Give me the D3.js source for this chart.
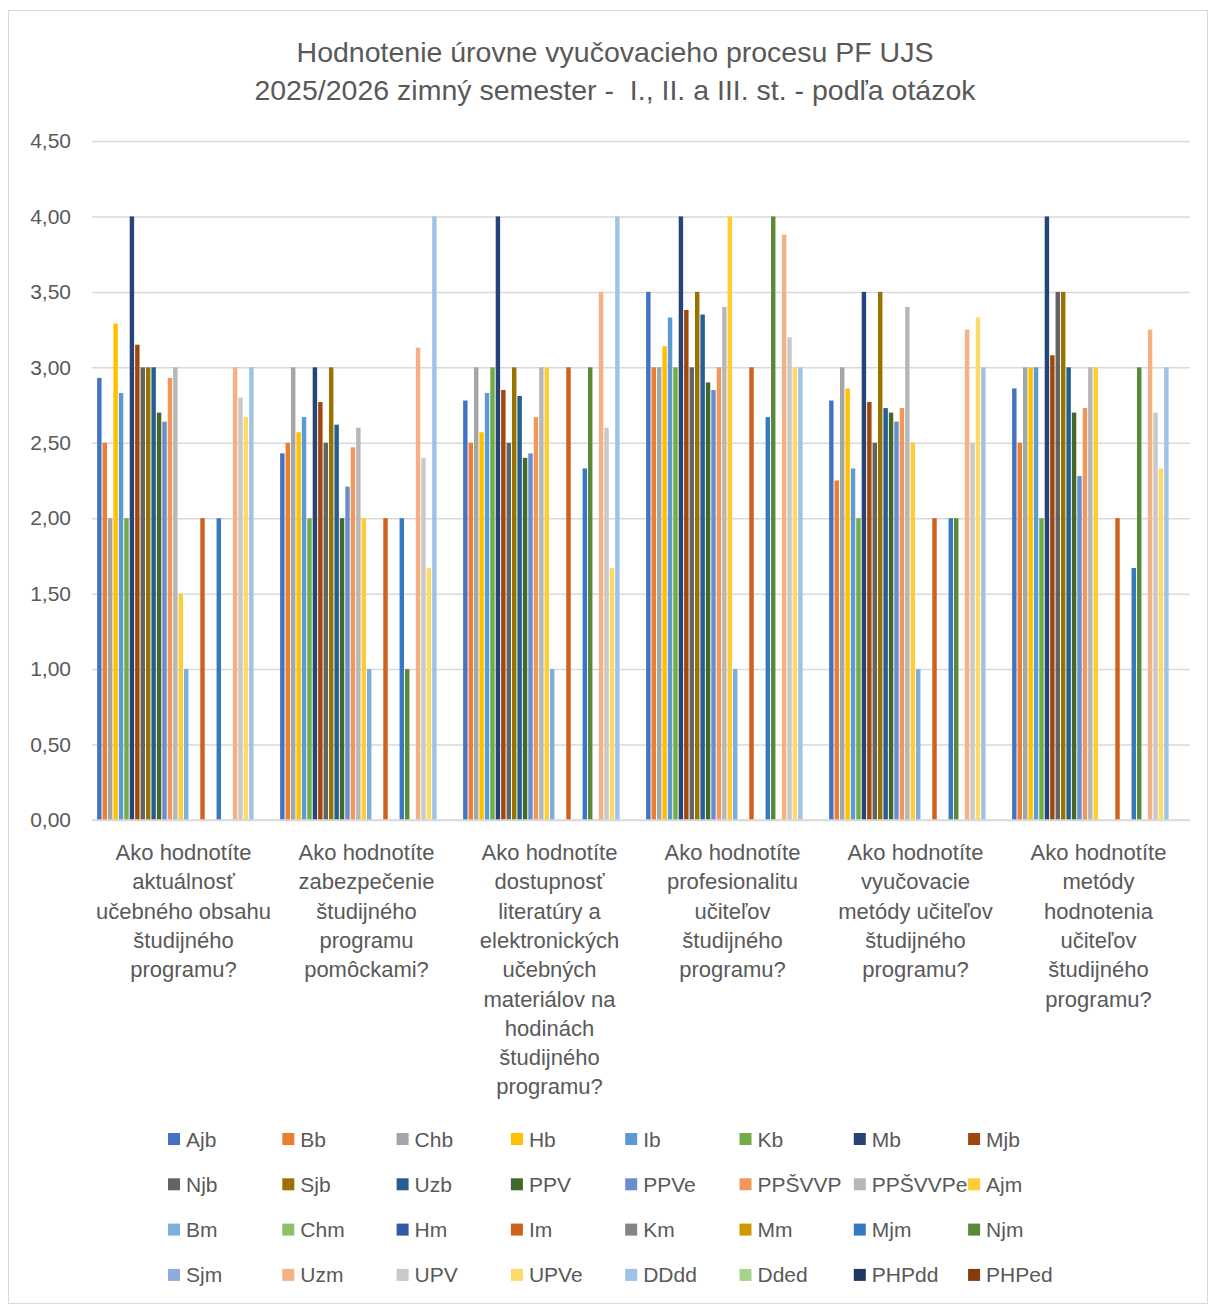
<!DOCTYPE html>
<html><head><meta charset="utf-8">
<script src="https://cdn.jsdelivr.net/npm/d3@7"></script>
<style>body{margin:0;background:#fff}svg{display:block}text{font-family:"Liberation Sans","DejaVu Sans",sans-serif;white-space:pre}</style>
</head><body><svg id="c" width="1208" height="1304"></svg>
<script>
const titleLines = ["Hodnotenie úrovne vyučovacieho procesu PF UJS", "2025/2026 zimný semester -  I., II. a III. st. - podľa otázok"];
const categories = [
  ["Ako hodnotíte","aktuálnosť","učebného obsahu","študijného","programu?"],
  ["Ako hodnotíte","zabezpečenie","študijného","programu","pomôckami?"],
  ["Ako hodnotíte","dostupnosť","literatúry a","elektronických","učebných","materiálov na","hodinách","študijného","programu?"],
  ["Ako hodnotíte","profesionalitu","učiteľov","študijného","programu?"],
  ["Ako hodnotíte","vyučovacie","metódy učiteľov","študijného","programu?"],
  ["Ako hodnotíte","metódy","hodnotenia","učiteľov","študijného","programu?"]
];
const seriesNames = ["Ajb","Bb","Chb","Hb","Ib","Kb","Mb","Mjb","Njb","Sjb","Uzb","PPV","PPVe","PPŠVVP","PPŠVVPe","Ajm","Bm","Chm","Hm","Im","Km","Mm","Mjm","Njm","Sjm","Uzm","UPV","UPVe","DDdd","Dded","PHPdd","PHPed"];
const seriesColors = ["#4472C4","#ED7D31","#A5A5A5","#FFC000","#5B9BD5","#70AD47","#264478","#9E480E","#636363","#997300","#255E91","#43682B","#698ED0","#F1975A","#B7B7B7","#FFCD33","#7CAFDD","#8CC168","#3358A4","#D0601A","#848484","#CC9A00","#3479C2","#5A8A38","#8FAADC","#F4B183","#C9C9C9","#FFD966","#9DC3E6","#A9D18E","#203864","#843C0C"];
// values per series, one per category (6 questions)
const Ajb=[2.93,2.43,2.78,3.50,2.78,2.86];
const Bb=[2.50,2.50,2.50,3.00,2.25,2.50];
const Chb=[2.00,3.00,3.00,3.00,3.00,3.00];
const Hb=[3.29,2.57,2.57,3.14,2.86,3.00];
const Ib=[2.83,2.67,2.83,3.33,2.33,3.00];
const Kb=[2.00,2.00,3.00,3.00,2.00,2.00];
const Mb=[4.00,3.00,4.00,4.00,3.50,4.00];
const Mjb=[3.15,2.77,2.85,3.38,2.77,3.08];
const Njb=[3.00,2.50,2.50,3.00,2.50,3.50];
const Sjb=[3.00,3.00,3.00,3.50,3.50,3.50];
const Uzb=[3.00,2.62,2.81,3.35,2.73,3.00];
const PPV=[2.70,2.00,2.40,2.90,2.70,2.70];
const PPVe=[2.64,2.21,2.43,2.85,2.64,2.28];
const PPSVVP=[2.93,2.47,2.67,3.00,2.73,2.73];
const PPSVVPe=[3.00,2.60,3.00,3.40,3.40,3.00];
const Ajm=[1.50,2.00,3.00,4.00,2.50,3.00];
const Bm=[1.00,1.00,1.00,1.00,1.00,0];
const Chm=[0,0,0,0,0,0];
const Hm=[0,0,0,0,0,0];
const Im=[2.00,2.00,3.00,3.00,2.00,2.00];
const Km=[0,0,0,0,0,0];
const Mm=[0,0,0,0,0,0];
const Mjm=[2.00,2.00,2.33,2.67,2.00,1.67];
const Njm=[0,1.00,3.00,4.00,2.00,3.00];
const Sjm=[0,0,0,0,0,0];
const Uzm=[3.00,3.13,3.50,3.88,3.25,3.25];
const UPV=[2.80,2.40,2.60,3.20,2.50,2.70];
const UPVe=[2.67,1.67,1.67,3.00,3.33,2.33];
const DDdd=[3.00,4.00,4.00,3.00,3.00,3.00];
const Dded=[0,0,0,0,0,0];
const PHPdd=[0,0,0,0,0,0];
const PHPed=[0,0,0,0,0,0];
const seriesValues=[Ajb,Bb,Chb,Hb,Ib,Kb,Mb,Mjb,Njb,Sjb,Uzb,PPV,PPVe,PPSVVP,PPSVVPe,Ajm,Bm,Chm,Hm,Im,Km,Mm,Mjm,Njm,Sjm,Uzm,UPV,UPVe,DDdd,Dded,PHPdd,PHPed];
const yTicks=[0,0.5,1,1.5,2,2.5,3,3.5,4,4.5];

const svg=d3.select("#c");
const txt="#595959";
svg.append("rect").attr("x",8.5).attr("y",10.5).attr("width",1199).attr("height",1293).attr("fill","#fff").attr("stroke","#d9d9d9").attr("stroke-width",1);

const L=92,R=1190,T=141,B=820;
const x0=d3.scaleBand().domain(d3.range(categories.length)).range([L,R]).padding(0);
const x1=d3.scaleBand().domain(d3.range(seriesNames.length)).range([0,x0.bandwidth()]).paddingInner(0).paddingOuter(0.85);
const y=d3.scaleLinear().domain([0,4.5]).range([B,T]);
const fmt=v=>d3.format(".2f")(v).replace(".",",");

// title
svg.append("g").selectAll("text").data(titleLines).join("text")
  .attr("x",615).attr("y",(d,i)=>62+i*38).attr("text-anchor","middle")
  .attr("font-size",28.5).attr("fill",txt).text(d=>d);

// grid
const yAxis=d3.axisLeft(y).tickValues(yTicks).tickSize(-(R-L)).tickFormat(fmt).tickPadding(21);
const ga=svg.append("g").attr("transform",`translate(${L},0)`).call(yAxis);
ga.select(".domain").remove();
ga.selectAll(".tick line").attr("stroke","#d9d9d9").attr("stroke-width",1.5);
ga.selectAll(".tick text").attr("font-size",21).attr("fill",txt).attr("font-family","Liberation Sans, sans-serif");

// bars
const groups=svg.append("g").selectAll("g").data(seriesNames).join("g").attr("fill",(d,i)=>seriesColors[i]);
groups.selectAll("rect").data((d,i)=>seriesValues[i].map((v,c)=>({v,c,s:i}))).join("rect")
  .filter(d=>d.v>0)
  .attr("x",d=>x0(d.c)+x1(d.s)+0.5)
  .attr("width",x1.bandwidth()-1)
  .attr("y",d=>y(d.v))
  .attr("height",d=>y(0)-y(d.v));

// baseline
svg.append("line").attr("x1",L).attr("x2",R).attr("y1",y(0)).attr("y2",y(0)).attr("stroke","#d9d9d9").attr("stroke-width",1.5);

// category labels
const xl=svg.append("g").selectAll("text").data(categories).join("text")
  .attr("x",(d,i)=>x0(i)+x0.bandwidth()/2).attr("y",860).attr("text-anchor","middle")
  .attr("font-size",22).attr("fill",txt);
xl.selectAll("tspan").data(d=>d).join("tspan")
  .attr("x",function(){return this.parentNode.getAttribute("x");})
  .attr("dy",(d,i)=>i===0?0:29.3).text(d=>d);

// legend
const cols=8, colW=114.3, rowH=45.3, lx=168, ly=1139;
const lg=svg.append("g").selectAll("g").data(seriesNames).join("g")
  .attr("transform",(d,i)=>`translate(${lx+(i%cols)*colW},${ly+Math.floor(i/cols)*rowH})`);
lg.append("rect").attr("x",0).attr("y",-6).attr("width",12).attr("height",12).attr("fill",(d,i)=>seriesColors[i]);
lg.append("text").attr("x",18).attr("y",7.5).attr("font-size",21).attr("fill",txt).text(d=>d);
</script></body></html>
